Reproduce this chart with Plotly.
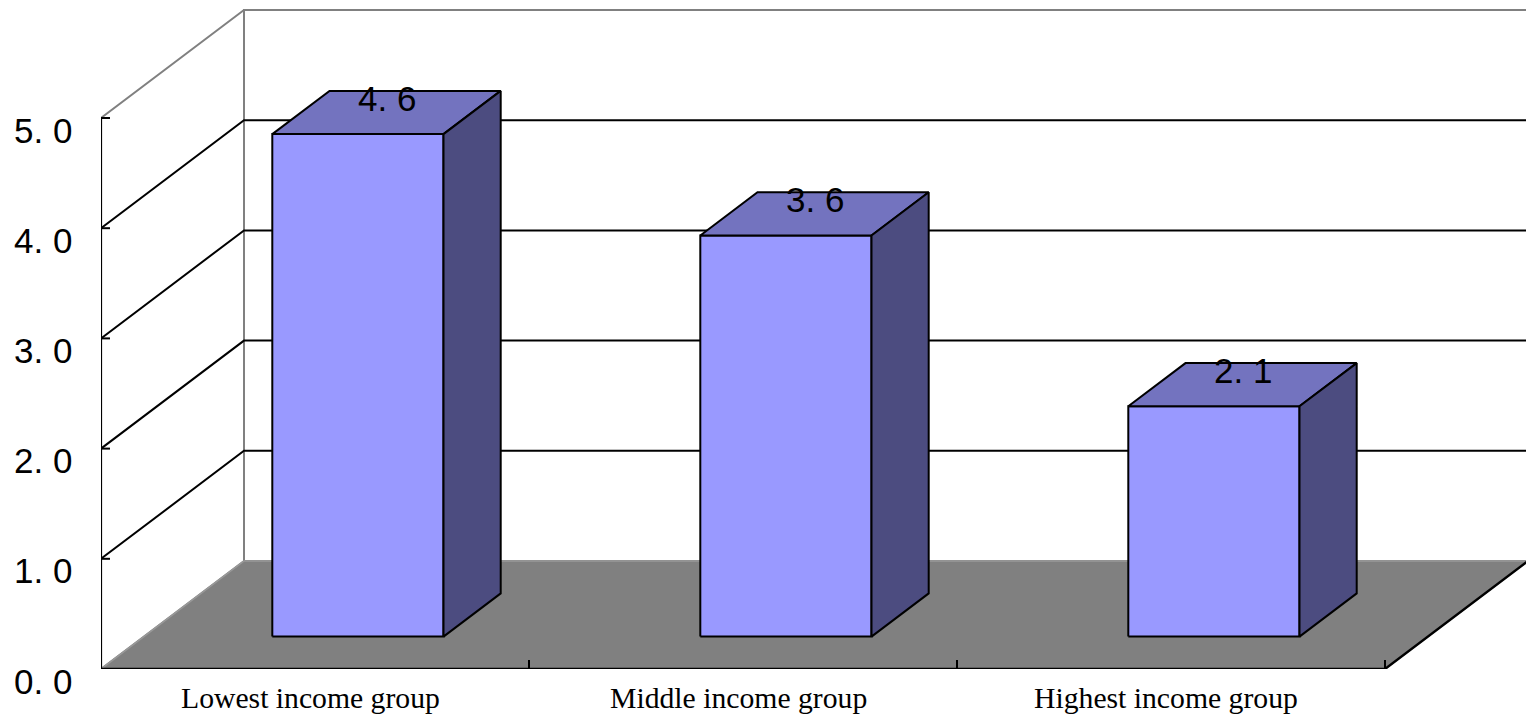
import plotly.graph_objects as go

# ---- data ----
categories = ["Lowest income group", "Middle income group", "Highest income group"]
values = [4.56, 3.64, 2.09]
tick_values = [0, 1, 2, 3, 4, 5]
tick_labels = ["0. 0", "1. 0", "2. 0", "3. 0", "4. 0", "5. 0"]

# ---- 3D projection style constants ----
PX_X = 428.0      # pixels per category unit
PX_Y = 110.2      # pixels per value unit
DX = 143 / PX_X   # depth offset in category units
DY = 108 / PX_Y   # depth offset in value units
D0, D1 = 0.3, 0.7  # bar depth range (fraction of floor depth)
BW0, BW1 = 0.3, 0.7  # bar width range within a category

W, H = 1526, 717
ML, MR, MT, MB = 101, 0, 8, 48
XR = (W - ML - MR) / PX_X
YR = (H - MT - MB) / PX_Y

FRONT = "#9999FF"
TOP = "#7373BF"
SIDE = "#4C4C80"
FLOOR = "#808080"
WALL_EDGE = "#808080"

n = len(categories)
ymax = max(tick_values)

fig = go.Figure()


def poly(xs, ys, fill, line_color="black", lw=2):
    fig.add_trace(go.Scatter(x=xs + [xs[0]], y=ys + [ys[0]], mode="lines", fill="toself",
                             fillcolor=fill, line=dict(color=line_color, width=lw),
                             hoverinfo="skip", showlegend=False))


def seg(xs, ys, color="black", lw=2):
    fig.add_trace(go.Scatter(x=xs, y=ys, mode="lines", line=dict(color=color, width=lw),
                             hoverinfo="skip", showlegend=False))


# back wall
poly([DX, n + DX + 1, n + DX + 1, DX], [DY, DY, ymax + DY, ymax + DY], "white", WALL_EDGE, 2)
# left wall
poly([0, DX, DX, 0], [0, DY, ymax + DY, ymax], "white", WALL_EDGE, 2)
# floor
poly([0, n, n + DX, DX], [0, 0, DY, DY], FLOOR, "#999999", 1.5)

# gridlines (left wall slanted + back wall horizontal)
for v in tick_values[1:-1]:
    seg([0, DX, n + DX + 1], [v, v + DY, v + DY], "black", 2)
# front vertical axis
seg([0, 0], [0, ymax], "black", 2.2)
for v in tick_values:
    seg([0, 9 / PX_X], [v, v], "black", 2)

# bars
for i, (c, v) in enumerate(zip(categories, values)):
    x0, x1 = i + BW0, i + BW1
    fx0, fx1 = x0 + D0 * DX, x1 + D0 * DX
    bx0, bx1 = x0 + D1 * DX, x1 + D1 * DX
    fy0, by0 = D0 * DY, D1 * DY
    poly([fx0, fx1, fx1, fx0], [fy0, fy0, v + fy0, v + fy0], FRONT)
    poly([fx0, fx1, bx1, bx0], [v + fy0, v + fy0, v + by0, v + by0], TOP)
    poly([fx1, bx1, bx1, fx1], [fy0, by0, v + by0, v + fy0], SIDE)

# floor front and right edges
seg([0, n, n + DX], [0, 0, DY], "black", 2.4)
for k in range(1, n + 1):
    seg([k, k], [0, 9 / PX_Y], "black", 2)

annotations = []
for v, t in zip(tick_values, tick_labels):
    annotations.append(dict(x=0, y=v, text=t, showarrow=False, xanchor="right", yanchor="middle",
                            xshift=-27, yshift=-12,
                            font=dict(family="Liberation Sans, Arial", size=35, color="black")))
for i, (c, v) in enumerate(zip(categories, values)):
    annotations.append(dict(x=i + 0.5, y=0, text=c, showarrow=False, xanchor="center", yanchor="top",
                            xshift=-5, yshift=-11,
                            font=dict(family="Liberation Serif, Times New Roman", size=29.7, color="black")))
    annotations.append(dict(x=i + 0.5 + 0.5 * DX, y=v + 0.5 * DY, text=f"{v:.1f}".replace(".", ". "),
                            showarrow=False, xanchor="center", yanchor="middle", yshift=14,
                            font=dict(family="Liberation Sans, Arial", size=35, color="black")))

fig.update_layout(
    width=W, height=H,
    margin=dict(l=ML, r=MR, t=MT, b=MB),
    paper_bgcolor="white", plot_bgcolor="white",
    xaxis=dict(range=[0, XR], visible=False, fixedrange=True),
    yaxis=dict(range=[0, YR], visible=False, fixedrange=True),
    annotations=annotations,
    showlegend=False,
)

fig.write_html("out.html", config={"displayModeBar": False},
               post_script="document.body.style.margin='0';document.body.style.overflow='hidden';")
